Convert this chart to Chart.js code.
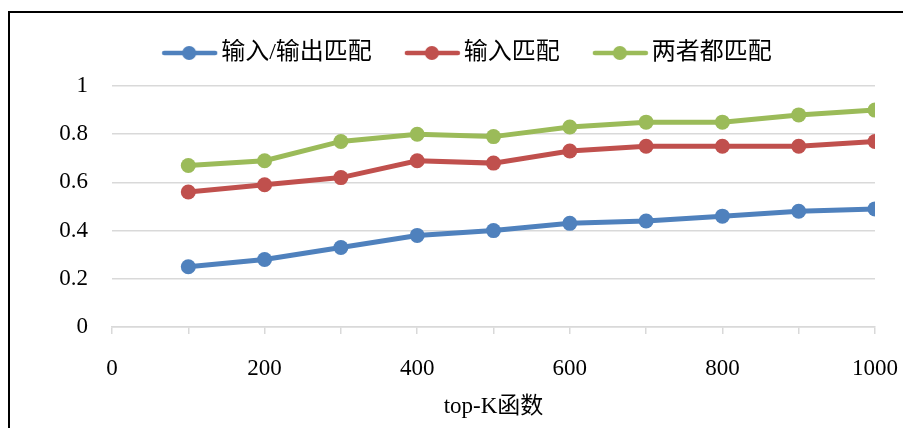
<!DOCTYPE html>
<html>
<head>
<meta charset="utf-8">
<script src="https://cdn.jsdelivr.net/npm/chart.js@4/dist/chart.umd.min.js"></script>
<style>
  body { margin: 0; background: #fff; }
  #wrap { position: relative; width: 903px; height: 428px; overflow: hidden; }
  #frame { position: absolute; left: 8px; top: 11px; width: 1000px; height: 1000px; border: 2px solid #000; }
  #myChart { position: absolute; left: 0; top: 0; }
</style>
</head>
<body>
<div id="wrap">
  <div id="frame"></div>
  <canvas id="myChart" width="903" height="428"></canvas>
</div>
<script>
// data
const topK = [100, 200, 300, 400, 500, 600, 700, 800, 900, 1000];
const ioMatch = [0.25, 0.28, 0.33, 0.38, 0.40, 0.43, 0.44, 0.46, 0.48, 0.49];
const inMatch = [0.56, 0.59, 0.62, 0.69, 0.68, 0.73, 0.75, 0.75, 0.75, 0.77];
const bothMatch = [0.67, 0.69, 0.77, 0.80, 0.79, 0.83, 0.85, 0.85, 0.88, 0.90];
const seriesNames = ['输入/输出匹配', '输入匹配', '两者都匹配'];
const xLabelsShown = [0, 200, 400, 600, 800, 1000];

const serif = "'Liberation Serif', 'Noto Sans CJK SC', serif";
const colors = ['#4f81bd', '#c0504d', '#9bbb59'];

// legend marker: short line with a dot, drawn off-center so the gap to the text stays small
const legendMark = (color) => {
    const c = document.createElement('canvas');
    c.width = 96; c.height = 16;
    const g = c.getContext('2d');
    g.strokeStyle = color;
    g.lineWidth = 4.5;
    g.lineCap = 'round';
    g.beginPath(); g.moveTo(42, 8); g.lineTo(93, 8); g.stroke();
    g.fillStyle = color;
    g.beginPath(); g.arc(67, 8, 7, 0, Math.PI * 2); g.fill();
    return c;
}

const toPts = (arr) => arr.map((v, i) => ({ x: topK[i], y: v }));

const mkSet = (label, arr, color) => ({
    label: label,
    data: toPts(arr),
    borderColor: color,
    backgroundColor: color,
    borderWidth: 5,
    pointRadius: 7.5,
    pointHoverRadius: 7.5,
    pointBorderWidth: 0,
    pointStyle: 'circle',
    tension: 0
});

// hidden spacer axis (keeps room between legend and plot, and on the right)
const spacer = (pos, size) => ({
    type: 'linear',
    position: pos,
    display: true,
    min: 0,
    max: 1,
    afterFit: (s) => { if (pos === 'top') s.height = size; else s.width = size; },
    ticks: { display: false },
    grid: { display: false },
    border: { display: false }
});

let ctx = document.getElementById('myChart').getContext('2d');
let myChart = new Chart(ctx, {
    type: 'line',
    data: {
        datasets: [
            mkSet(seriesNames[0], ioMatch, colors[0]),
            mkSet(seriesNames[1], inMatch, colors[1]),
            mkSet(seriesNames[2], bothMatch, colors[2])
        ]
    },
    options: {
        responsive: false,
        animation: false,
        layout: { padding: { top: 39, right: 0, left: 0, bottom: 0 } },
        plugins: {
            tooltip: { enabled: false },
            legend: {
                position: 'top',
                labels: {
                    usePointStyle: true,
                    pointStyleWidth: 78,
                    padding: 2,
                    color: '#000',
                    font: { family: serif, size: 24 },
                    generateLabels: (chart) => chart.data.datasets.map((d, i) => ({
                        text: d.label,
                        pointStyle: legendMark(colors[i]),
                        fillStyle: colors[i],
                        strokeStyle: colors[i],
                        lineWidth: 0,
                        hidden: false,
                        datasetIndex: i
                    }))
                }
            }
        },
        scales: {
            x: {
                type: 'linear',
                min: 0,
                max: 1000,
                afterFit: (s) => { s.height = 101; s.paddingLeft = 0; s.paddingRight = 0; },
                ticks: {
                    stepSize: 100,
                    autoSkip: false,
                    maxRotation: 0,
                    padding: 21,
                    color: '#000',
                    font: { family: serif, size: 23 },
                    callback: (v) => xLabelsShown.includes(v) ? String(v) : ''
                },
                grid: { drawOnChartArea: false, color: '#d9d9d9', tickLength: 7, lineWidth: 1.5 },
                border: { color: '#d9d9d9', width: 1.5 },
                title: {
                    display: true,
                    text: 'top-K函数',
                    color: '#000',
                    font: { family: serif, size: 23 },
                    padding: { top: 0, bottom: 7 }
                }
            },
            xTop: spacer('top', 11),
            yRight: spacer('right', 28),
            y: {
                min: 0,
                max: 1,
                afterFit: (s) => { s.width = 112; },
                ticks: {
                    stepSize: 0.2,
                    padding: 24,
                    color: '#000',
                    font: { family: serif, size: 23 },
                    callback: (v) => Math.round(v * 10) / 10
                },
                grid: { color: '#d9d9d9', lineWidth: 1.5, drawTicks: false },
                border: { display: false }
            }
        }
    }
});
</script>
</body>
</html>
